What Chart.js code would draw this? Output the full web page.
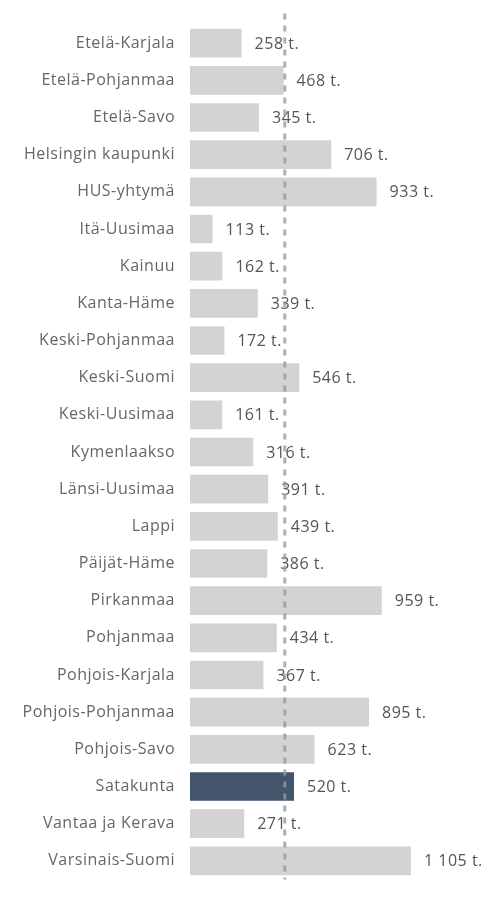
<!DOCTYPE html>
<html lang="fi">
<head>
  <meta charset="UTF-8" />
  <title>Alueet</title>
  <style>
    body {
      margin: 0;
      padding: 0;
      background: #fff;
      overflow: hidden;
    }
    .wrap {
      position: relative;
      width: 489px;
      height: 904px;
    }
  </style>
  <script src="https://cdn.jsdelivr.net/npm/chart.js"></script>
</head>
<body>
  <div class="wrap">
    <canvas id="chartAlueet"></canvas>
  </div>

  <script>
    // alueet ja arvot (tuhatta)
    const regions = [
      'Etelä-Karjala', 'Etelä-Pohjanmaa', 'Etelä-Savo', 'Helsingin kaupunki', 'HUS-yhtymä',
      'Itä-Uusimaa', 'Kainuu', 'Kanta-Häme', 'Keski-Pohjanmaa', 'Keski-Suomi',
      'Keski-Uusimaa', 'Kymenlaakso', 'Länsi-Uusimaa', 'Lappi', 'Päijät-Häme',
      'Pirkanmaa', 'Pohjanmaa', 'Pohjois-Karjala', 'Pohjois-Pohjanmaa', 'Pohjois-Savo',
      'Satakunta', 'Vantaa ja Kerava', 'Varsinais-Suomi'
    ];
    const values = [
      258, 468, 345, 706, 933,
      113, 162, 339, 172, 546,
      161, 316, 391, 439, 386,
      959, 434, 367, 895, 623,
      520, 271, 1105
    ];
    const highlighted = ['Satakunta'];
    const averageLine = [474];

    const fontFamily = "'Open Sans', sans-serif";
    const spacing = '0.5px';

    function fmt(v) {
      return String(v).replace(/\B(?=(\d{3})+(?!\d))/g, ' ') + ' t.';
    }

    // hieman harvempi teksti kuin oletus
    const letterSpace = {
      id: 'letterSpace',
      beforeDraw(chart) {
        chart.ctx.letterSpacing = spacing;
      }
    };

    const valueLabels = {
      id: 'valueLabels',
      afterDatasetsDraw(chart) {
        const ctx = chart.ctx;
        const meta = chart.getDatasetMeta(0);
        ctx.save();
        ctx.letterSpacing = spacing;
        ctx.font = '16px ' + fontFamily;
        ctx.fillStyle = '#555';
        ctx.textAlign = 'left';
        ctx.textBaseline = 'middle';
        meta.data.forEach((bar, i) => {
          ctx.fillText(fmt(values[i]), bar.x + 13, bar.y + 1);
        });
        ctx.restore();
      }
    };

    const avgLine = {
      id: 'avgLine',
      afterDraw(chart) {
        const ctx = chart.ctx;
        const x = chart.scales.x.getPixelForValue(averageLine[0]);
        ctx.save();
        ctx.strokeStyle = 'rgba(145,155,168,0.8)';
        ctx.lineWidth = 3;
        ctx.setLineDash([6, 6]);
        ctx.beginPath();
        ctx.moveTo(x, chart.chartArea.top - 11);
        ctx.lineTo(x, chart.chartArea.bottom);
        ctx.stroke();
        ctx.restore();
      }
    };

    new Chart(document.getElementById('chartAlueet'), {
      type: 'bar',
      data: {
        labels: regions,
        datasets: [{
          data: values,
          backgroundColor: regions.map(r => highlighted.includes(r) ? '#42556b' : '#d3d3d3'),
          borderWidth: 0,
          barPercentage: 0.77,
          categoryPercentage: 1
        }]
      },
      options: {
        indexAxis: 'y',
        responsive: true,
        maintainAspectRatio: false,
        animation: false,
        layout: { padding: { top: 23, right: 0, bottom: 0, left: 0 } },
        scales: {
          x: { display: false, min: 0, max: 1495 },
          y: {
            afterFit(scale) { scale.width = 190; },
            grid: { display: false, drawTicks: false },
            border: { display: false },
            ticks: {
              padding: 15,
              color: '#666',
              font: { family: fontFamily, size: 16 }
            }
          }
        },
        plugins: {
          legend: { display: false },
          tooltip: { enabled: false }
        }
      },
      plugins: [letterSpace, valueLabels, avgLine]
    });
  </script>
</body>
</html>
